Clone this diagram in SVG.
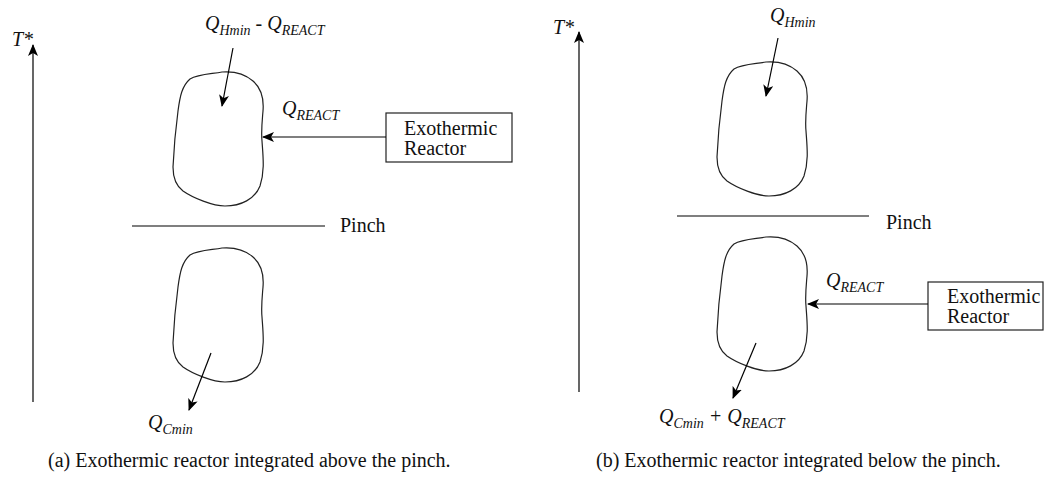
<svg xmlns="http://www.w3.org/2000/svg" xmlns:xlink="http://www.w3.org/1999/xlink" width="1045" height="481" viewBox="0 0 1045 481">
<style>
text{font-family:"Liberation Serif","Times New Roman",serif;font-size:20px;fill:#111}
.it{font-style:italic}
.sub{font-size:14px}
.ln{stroke:#000;stroke-width:1.2;fill:none}
.blob{stroke:#222;stroke-width:1.2;fill:none}
.box{stroke:#222;stroke-width:1.2;fill:#fff}
</style>
<defs>
<marker id="ah" viewBox="0 0 12 10" refX="11" refY="5" markerWidth="12" markerHeight="10" markerUnits="userSpaceOnUse" orient="auto">
<path d="M0,0 L12,5 L0,10 L3,5 Z" fill="#000"/>
</marker>
<path id="blobShape" d="M49,1 C62,0 72,3 80,10 C88,17 91,28 90,40 C89,52 88,60 89,70 C90,85 92,100 87,115 C82,128 68,135 52,135 C40,135 20,127 10,120 C2,114 0,106 0,96 C1,75 3,55 5,40 C7,25 9,15 17,8 C25,3 38,3 49,1 Z"/>
</defs>

<!-- Panel (a) -->
<g id="a-axis"><line class="ln" x1="33" y1="402" x2="33" y2="45" marker-end="url(#ah)"/><text class="it" x="12" y="46">T*</text></g>
<g id="a-above"><use xlink:href="#blobShape" class="blob" x="173" y="71"/></g>
<g id="a-below"><use xlink:href="#blobShape" class="blob" x="173" y="247"/></g>
<g id="a-pinch"><line class="ln" x1="132" y1="226" x2="325" y2="226"/><text x="340" y="232">Pinch</text></g>
<g id="a-reactor"><rect class="box" x="386" y="113" width="126" height="49"/><text x="404" y="135">Exothermic</text><text x="404" y="155">Reactor</text></g>
<g id="a-labels">
<text class="it" x="205" y="30">Q<tspan class="sub" dy="5">Hmin</tspan><tspan dy="-5"> - Q</tspan><tspan class="sub" dy="5">REACT</tspan></text>
<text class="it" x="282" y="115">Q<tspan class="sub" dy="5">REACT</tspan></text>
<text class="it" x="148" y="429">Q<tspan class="sub" dy="5">Cmin</tspan></text>
</g>

<!-- Panel (b) -->
<g id="b-axis"><line class="ln" x1="579" y1="392" x2="579" y2="32" marker-end="url(#ah)"/><text class="it" x="553" y="34">T*</text></g>
<g id="b-above"><use xlink:href="#blobShape" class="blob" x="717" y="61"/></g>
<g id="b-below"><use xlink:href="#blobShape" class="blob" x="717" y="236"/></g>
<g id="b-pinch"><line class="ln" x1="677" y1="216" x2="869" y2="216"/><text x="886" y="229">Pinch</text></g>
<g id="b-reactor"><rect class="box" x="928" y="282" width="115" height="48"/><text x="947" y="303">Exothermic</text><text x="947" y="323">Reactor</text></g>
<g id="b-labels">
<text class="it" x="770" y="22">Q<tspan class="sub" dy="5">Hmin</tspan></text>
<text class="it" x="826" y="287">Q<tspan class="sub" dy="5">REACT</tspan></text>
<text class="it" x="659" y="423">Q<tspan class="sub" dy="5">Cmin</tspan><tspan dy="-5"> + Q</tspan><tspan class="sub" dy="5">REACT</tspan></text>
</g>

<g id="connectors">
<line class="ln" x1="233" y1="48" x2="222" y2="106" marker-end="url(#ah)"/>
<line class="ln" x1="386" y1="137" x2="263" y2="137" marker-end="url(#ah)"/>
<line class="ln" x1="211" y1="353" x2="189" y2="410" marker-end="url(#ah)"/>
<line class="ln" x1="778" y1="38" x2="766" y2="96" marker-end="url(#ah)"/>
<line class="ln" x1="928" y1="304" x2="808" y2="304" marker-end="url(#ah)"/>
<line class="ln" x1="756" y1="343" x2="733" y2="398" marker-end="url(#ah)"/>
</g>

<g id="captions">
<text x="48" y="467">(a) Exothermic reactor integrated above the pinch.</text>
<text x="596" y="467">(b) Exothermic reactor integrated below the pinch.</text>
</g>
</svg>
